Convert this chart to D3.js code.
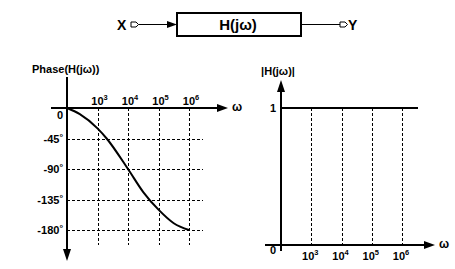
<!DOCTYPE html>
<html>
<head>
<meta charset="utf-8">
<script src="https://cdn.jsdelivr.net/npm/d3@7"></script>
<style>
  body { margin: 0; background: #fff; }
  text { font-family: "Liberation Sans", Arial, sans-serif; font-weight: bold; fill: #000; }
</style>
</head>
<body>
<div class="canvas"></div>
<script>
// chart data
const decades = [3, 4, 5, 6];                 // tick labels 10^n
const phaseTicks = [0, -45, -90, -135, -180];  // degrees
const curveLogW = [2, 2.42, 3, 3.3, 4, 4.5, 5, 5.5, 6];
const curvePhase = [0, -9, -30, -45, -90, -124, -150, -170, -180];
const magLevel = 1;

const svg = d3.select('.canvas').append('svg')
  .attr('width', 455).attr('height', 269);

// snap thin lines to the pixel grid so dashes stay black
const crisp = v => Math.round(v) + 0.5;

// filled arrow head, tip at (x,y), pointing dir
function arrowHead(g, x, y, dir, len, half) {
  let pts;
  if (dir === 'right') pts = [[x, y], [x - len, y - half], [x - len, y + half]];
  if (dir === 'up') pts = [[x, y], [x - half, y + len], [x + half, y + len]];
  if (dir === 'down') pts = [[x, y], [x - half, y - len], [x + half, y - len]];
  g.append('polygon').attr('points', pts.map(p => p.join(',')).join(' ')).attr('fill', '#000');
}

// small pin symbol
function port(g, x, y) {
  g.append('path')
    .attr('d', `M${x},${y - 2.5} L${x + 5},${y - 2.5} L${x + 7.5},${y} L${x + 5},${y + 2.5} L${x},${y + 2.5} Z`)
    .attr('fill', '#fff').attr('stroke', '#000').attr('stroke-width', 1);
}

function powLabel(g, x, y, exp, size) {
  const t = g.append('text').attr('x', x).attr('y', y).attr('font-size', size).attr('text-anchor', 'middle');
  t.append('tspan').text('10');
  t.append('tspan').attr('dy', -5).attr('font-size', size * 0.68).text(exp);
}

// ---------- block diagram ----------
const blk = svg.append('g');
const by = 24.5;
blk.append('text').attr('x', 117).attr('y', by + 5).attr('font-size', 14).text('X');
port(blk, 131, by);
blk.append('line').attr('x1', 138.5).attr('x2', 170).attr('y1', by).attr('y2', by).attr('stroke', '#000').attr('stroke-width', 1);
arrowHead(blk, 177, by, 'right', 10, 3.5);
blk.append('rect').attr('x', 177).attr('y', 13).attr('width', 124).attr('height', 23)
  .attr('fill', '#fff').attr('stroke', '#000').attr('stroke-width', 2);
blk.append('text').attr('x', 238).attr('y', by + 5).attr('font-size', 15).attr('text-anchor', 'middle').text('H(jω)');
blk.append('line').attr('x1', 301).attr('x2', 340).attr('y1', by).attr('y2', by).attr('stroke', '#000').attr('stroke-width', 1);
port(blk, 340, by);
blk.append('text').attr('x', 348).attr('y', by + 5).attr('font-size', 14).text('Y');

// ---------- phase plot ----------
const xP = d3.scaleLinear().domain([2, 6]).range([67, 189]);
const yP = d3.scaleLinear().domain([0, -180]).range([108, 230]);
const pg = svg.append('g');

// grid
pg.selectAll('.hgrid').data(phaseTicks.slice(1)).enter().append('line')
  .attr('x1', xP(2)).attr('x2', 203)
  .attr('y1', d => crisp(yP(d))).attr('y2', d => crisp(yP(d)))
  .attr('stroke', '#000').attr('stroke-width', 1).attr('stroke-dasharray', '3,2');
pg.selectAll('.vgrid').data(decades).enter().append('line')
  .attr('x1', d => crisp(xP(d))).attr('x2', d => crisp(xP(d)))
  .attr('y1', yP(0)).attr('y2', 245)
  .attr('stroke', '#000').attr('stroke-width', 1).attr('stroke-dasharray', '3,2');

// axes
pg.append('line').attr('x1', 51).attr('x2', 219).attr('y1', yP(0)).attr('y2', yP(0)).attr('stroke', '#000').attr('stroke-width', 2);
arrowHead(pg, 228, yP(0), 'right', 11, 4);
pg.append('line').attr('x1', xP(2)).attr('x2', xP(2)).attr('y1', 77).attr('y2', 250).attr('stroke', '#000').attr('stroke-width', 2);
arrowHead(pg, xP(2), 261, 'down', 12, 4);

// curve
const pts = curveLogW.map((w, i) => [w, curvePhase[i]]);
pg.append('path').datum(pts)
  .attr('fill', 'none').attr('stroke', '#000').attr('stroke-width', 2)
  .attr('d', d3.line().x(d => xP(d[0])).y(d => yP(d[1])).curve(d3.curveMonotoneX));

// labels
pg.append('text').attr('x', 32).attr('y', 73).attr('font-size', 11).text('Phase(H(jω))');
decades.forEach(d => powLabel(pg, xP(d) + 2, 105, d, 11));
pg.append('text').attr('x', 232).attr('y', 111).attr('font-size', 12).text('ω');
phaseTicks.forEach(d => {
  const t = pg.append('text').attr('x', 63).attr('y', yP(d) + (d === 0 ? 11 : 4)).attr('font-size', 11).attr('text-anchor', 'end');
  t.append('tspan').text(d === 0 ? '0' : d);
  if (d !== 0) t.append('tspan').attr('dy', -3).attr('font-size', 9).text('°');
});

// ---------- magnitude plot ----------
const xM = d3.scaleLinear().domain([2, 6]).range([281, 402]);
const yM = d3.scaleLinear().domain([0, 1]).range([245, 108]);
const mg = svg.append('g');

mg.selectAll('.vgrid').data(decades).enter().append('line')
  .attr('x1', d => crisp(xM(d))).attr('x2', d => crisp(xM(d)))
  .attr('y1', yM(magLevel)).attr('y2', yM(0))
  .attr('stroke', '#000').attr('stroke-width', 1).attr('stroke-dasharray', '3,2');

mg.append('line').attr('x1', 265).attr('x2', 426).attr('y1', yM(0)).attr('y2', yM(0)).attr('stroke', '#000').attr('stroke-width', 2);
arrowHead(mg, 435, yM(0), 'right', 11, 4);
mg.append('line').attr('x1', xM(2)).attr('x2', xM(2)).attr('y1', 89).attr('y2', 251).attr('stroke', '#000').attr('stroke-width', 2);
arrowHead(mg, xM(2), 80, 'up', 12, 4);

mg.append('line').attr('x1', xM(2)).attr('x2', 418).attr('y1', yM(magLevel)).attr('y2', yM(magLevel))
  .attr('stroke', '#000').attr('stroke-width', 2);

mg.append('text').attr('x', 278).attr('y', 75).attr('font-size', 11).attr('text-anchor', 'middle').text('|H(jω)|');
mg.append('text').attr('x', 276).attr('y', yM(magLevel) + 4).attr('font-size', 11).attr('text-anchor', 'end').text(magLevel);
mg.append('text').attr('x', 276).attr('y', 254).attr('font-size', 11).attr('text-anchor', 'end').text('0');
decades.forEach(d => powLabel(mg, xM(d) - 1, 260, d, 11));
mg.append('text').attr('x', 439).attr('y', 248).attr('font-size', 12).text('ω');
</script>
</body>
</html>
